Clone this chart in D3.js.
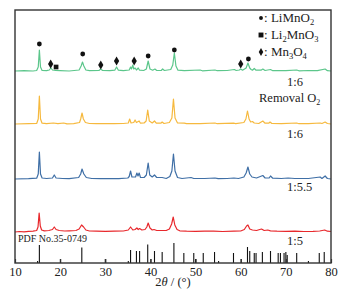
<!DOCTYPE html>
<html>
<head>
<meta charset="utf-8">
<script src="https://cdn.jsdelivr.net/npm/d3@7"></script>
<style>
  body { margin: 0; background: #fff; }
  text { font-family: "Liberation Serif", "Times New Roman", serif; fill: #222; }
</style>
</head>
<body>
<svg id="chart" width="346" height="300"></svg>
<script>
// 2theta / intensity (arbitrary, above each pattern's own baseline)
const ratio1to6 = [[10,0],[12,0.3],[14,0],[14.8,0.5],[15.15,4],[15.4,21],[15.65,4],[16,0.5],[17,0.3],[17.6,1],[17.95,3],[18.3,1],[19,0.5],[20,0.3],[22,0],[24.2,1],[24.65,5],[24.95,9],[25.25,5],[25.7,1],[26.5,0.3],[28.6,0.5],[29,2],[29.4,0.5],[31,0.3],[32.1,0.8],[32.5,4],[32.9,0.8],[34,0.3],[35.3,1],[35.6,4],[35.8,2],[36.1,6],[36.3,2],[36.6,3],[36.9,1],[37.3,3],[37.6,0.8],[38.5,0.5],[39.1,2],[39.5,10],[39.9,2],[40.5,0.8],[41,2],[41.4,0.5],[42.4,0.5],[42.7,2],[43.1,0.5],[44.5,1.5],[44.95,6],[45.3,18],[45.65,5],[46.1,0.8],[47.5,0.3],[51,1],[51.5,0.2],[54.3,1],[54.8,0.3],[57,0.5],[58.6,1.5],[59,0.5],[59.7,1],[60,2],[60.4,0.8],[61.2,3],[61.6,8],[62,3],[62.3,1.5],[62.6,0.8],[63,2.5],[63.4,0.8],[64.5,0.8],[64.9,2],[65.4,0.5],[66.6,1.5],[67.1,0.3],[70,0.3],[72.4,1],[72.9,0.2],[75,0.5],[77,0.3],[78.7,2],[79.2,0.3],[80,0]];
const ratio1to6NoO2 = [[10,0],[13,0.3],[14.8,0.5],[15.15,5],[15.4,28],[15.65,5],[16,0.8],[17,0.3],[18.5,1],[19.5,0.3],[20.8,1],[21.5,0.2],[23,0.3],[24.3,1.5],[24.55,5],[24.85,11],[25.15,5],[25.6,1.5],[26.5,0.5],[28,0.3],[30,0.5],[32,0.3],[34,0.5],[35.1,1],[35.4,5],[35.7,1],[36.3,1.5],[36.6,4],[36.9,1.5],[37.5,3],[37.8,0.8],[38.6,1],[39.05,3],[39.4,14],[39.75,3],[40.4,1],[40.9,3],[41.3,0.8],[42.3,0.8],[42.6,2],[43,0.5],[44.2,1.5],[44.75,6],[45.1,25],[45.45,6],[46,1],[47.5,0.8],[48,0.3],[51,0.3],[54.3,1],[54.8,0.3],[58.4,0.8],[58.9,0.3],[60.7,1.5],[61.15,5],[61.5,13],[61.85,5],[62.2,2],[62.6,2.5],[63,1],[64,0.5],[64.9,3],[65.4,0.8],[66.2,0.8],[66.5,2],[66.9,0.5],[69,0.3],[72.4,1],[72.9,0.3],[75,0.3],[77.6,1],[78,0.5],[78.7,2],[79.2,0.5],[80,0]];
const ratio1to55 = [[10,0],[13,0.3],[14.8,0.8],[15.15,5],[15.4,27],[15.65,5],[16,1],[17,0.5],[18.3,1],[18.7,4],[19.1,1],[20.5,0.5],[22,0.3],[24.1,1.5],[24.55,5],[24.85,10],[25.25,5],[25.8,1.5],[27,0.5],[29,0.3],[31,0.5],[33,0.3],[35,1],[35.3,2.5],[35.6,8],[35.9,2],[36.7,2],[37,6],[37.25,3],[37.5,6],[37.8,1.5],[38.6,1.5],[39.1,4],[39.5,16],[39.85,4],[40.4,2],[40.9,4],[41.4,1.5],[42.6,1.5],[43.5,0.5],[44.3,2.5],[44.75,8],[45.1,25],[45.45,8],[46,1.5],[47,0.5],[49,1.5],[49.6,0.5],[52,0.5],[54.3,1],[55,0.3],[57,0.5],[58.5,1],[59.5,0.5],[60.7,2],[61.2,6],[61.6,12],[62,5],[62.5,2],[63.5,1],[64.9,3.5],[65.4,1],[66.3,1],[66.6,3],[67.1,0.8],[69,0.5],[70.5,1],[72,0.5],[75,0.5],[77.6,2],[78,0.5],[78.7,3],[79.2,0.5],[80,0]];
const ratio1to5 = [[10,0],[11,0.5],[12,0.2],[13,0.6],[14,0.8],[14.8,1.5],[15.1,5],[15.35,19],[15.6,6],[15.9,2],[16.5,1.2],[17.5,1.5],[18.3,2.5],[18.7,5],[19.1,2.5],[19.8,1.5],[21,1],[22,1.2],[23.5,1.5],[24.2,3],[24.75,7],[25.2,5],[25.7,2],[26.5,1],[28,0.8],[30,0.6],[32,0.8],[34,1],[35.1,2],[35.6,5],[36.1,2],[36.6,2.5],[37,4],[37.3,2.5],[37.6,3.5],[38.1,2],[38.8,2.5],[39.2,5],[39.5,9],[39.9,4],[40.4,2],[40.8,2.5],[41.4,1.5],[42.5,1.5],[43.5,1.5],[44.2,3],[44.7,8],[45.05,15],[45.4,7],[45.9,2.5],[46.5,1.2],[48,0.8],[50,0.6],[52,0.8],[54,0.8],[56,0.5],[58.5,0.8],[60,1],[60.8,2.5],[61.3,6],[61.6,7],[62,3],[62.6,2],[63.5,1.5],[64.6,3],[65.2,1.5],[66,2],[66.6,1.2],[68,0.8],[70,0.6],[72,0.8],[74,0.5],[76,0.6],[77.5,1],[78.6,2],[79.2,0.8],[80,0.5]];

// PDF No.35-0749 reference lines: [2theta, relative height]
const pdfLines = [[15.0,2],[15.4,18],[20.05,4],[24.8,15.5],[30.0,4],[35.1,2],[35.6,13],[36.9,12],[37.6,12],[39.4,18.5],[40.1,4],[40.9,12],[42.6,11],[45.2,20],[47.4,10],[49.6,10],[50.0,4],[51.7,10],[54.2,11],[55.1,2],[58.4,10],[60.1,4],[61.5,16],[62.0,12],[63.0,10],[63.4,10],[64.8,11],[66.6,12],[68.3,10],[68.8,10],[69.6,10],[70.0,11],[70.3,8],[72.4,10],[75.0,2],[77.4,10],[78.5,11]];

// phase markers on the top pattern: [2theta, intensity]
const limno2Marks = [[15.4,27],[25.0,17],[39.5,15],[45.3,21],[61.7,12]];
const li2mno3Marks = [[19.1,4]];
const mn3o4Marks = [[17.9,7],[29.0,6],[32.5,10],[36.4,10],[60.0,7]];

const xTicks = [10, 20, 30, 40, 50, 60, 70, 80];

const series = [
  { data: ratio1to5, offset: 31, color: "#e8282c", label: "1:5", ly: 245 },
  { data: ratio1to55, offset: 84, color: "#3f6fa6", label: "1:5.5", ly: 191 },
  { data: ratio1to6NoO2, offset: 139, color: "#f6b93e", label: "1:6", ly: 138 },
  { data: ratio1to6, offset: 192, color: "#5cc68b", label: "1:6", ly: 86 }
];

const svg = d3.select("#chart");
const margin = { left: 15, right: 15, top: 10, bottom: 37 };
const width = 346 - margin.left - margin.right;
const height = 300 - margin.top - margin.bottom;

const x = d3.scaleLinear().domain([10, 80]).range([margin.left, margin.left + width]);
const y = d3.scaleLinear().domain([0, height]).range([margin.top + height, margin.top]);

const g = svg.append("g");

// pdf stick pattern
g.append("g").selectAll("line")
  .data(pdfLines)
  .join("line")
  .attr("x1", d => x(d[0])).attr("x2", d => x(d[0]))
  .attr("y1", y(0)).attr("y2", d => y(d[1]))
  .attr("stroke", "#111").attr("stroke-width", 1.1);

// patterns
series.forEach(s => {
  const line = d3.line()
    .x(d => x(d[0]))
    .y(d => y(d[1] + s.offset));
  g.append("path")
    .datum(s.data)
    .attr("d", line)
    .attr("fill", "none")
    .attr("stroke", s.color)
    .attr("stroke-width", 1.2)
    .attr("stroke-linejoin", "round");
  g.append("text")
    .attr("x", 287).attr("y", s.ly)
    .attr("font-size", 12.5)
    .text(s.label);
});

// "Removal O2"
const rem = g.append("text").attr("x", 259).attr("y", 102).attr("font-size", 12.5);
rem.append("tspan").text("Removal O");
rem.append("tspan").attr("font-size", 8).attr("dy", 3).text("2");

g.append("text").attr("x", 18).attr("y", 242).attr("font-size", 10).text("PDF No.35-0749");

// markers
const dot = d3.symbol().type(d3.symbolCircle).size(18);
const sq = d3.symbol().type(d3.symbolSquare).size(22);
const dia = d3.symbol().type(d3.symbolDiamond).size(24);
const markG = g.append("g").attr("fill", "#111");
markG.selectAll(".c").data(limno2Marks).join("path")
  .attr("transform", d => `translate(${x(d[0])},${y(d[1] + 192)})`).attr("d", dot);
markG.selectAll(".s").data(li2mno3Marks).join("path")
  .attr("transform", d => `translate(${x(d[0])},${y(d[1] + 192)})`).attr("d", sq);
markG.selectAll(".d").data(mn3o4Marks).join("path")
  .attr("transform", d => `translate(${x(d[0])},${y(d[1] + 192)})`).attr("d", dia);

// legend: [main, sub, main, sub]
const legend = [
  { sym: d3.symbol().type(d3.symbolCircle).size(12), parts: ["LiMnO", "2"], y: 22 },
  { sym: d3.symbol().type(d3.symbolSquare).size(24), parts: ["Li", "2", "MnO", "3"], y: 39 },
  { sym: d3.symbol().type(d3.symbolDiamond).size(18), parts: ["Mn", "3", "O", "4"], y: 56 }
];
legend.forEach(l => {
  g.append("path").attr("d", l.sym).attr("fill", "#111")
    .attr("transform", `translate(261,${l.y - 4})`);
  const t = g.append("text").attr("x", 264).attr("y", l.y).attr("font-size", 13);
  t.append("tspan").text(": ");
  l.parts.forEach((p, i) => {
    if (i % 2 === 0) {
      t.append("tspan").attr("font-size", 13).attr("dy", i === 0 ? 0 : -3).text(p);
    } else {
      t.append("tspan").attr("font-size", 8.5).attr("dy", 3).text(p);
    }
  });
});

// frame
g.append("rect")
  .attr("x", margin.left).attr("y", margin.top)
  .attr("width", width).attr("height", height)
  .attr("fill", "none").attr("stroke", "#333").attr("stroke-width", 1.4);

// x axis
const xAxis = g.append("g")
  .attr("transform", `translate(0,${margin.top + height})`)
  .call(d3.axisBottom(x).tickValues(xTicks).tickSize(-4).tickPadding(4));
xAxis.select(".domain").remove();
xAxis.selectAll(".tick line").attr("stroke", "#333").attr("stroke-width", 1.2);
xAxis.selectAll(".tick text")
  .attr("font-size", 12.5)
  .attr("font-family", "'Liberation Serif', serif")
  .attr("fill", "#222");

const title = g.append("text")
  .attr("x", 173).attr("y", 286)
  .attr("text-anchor", "middle").attr("font-size", 12.5);
title.append("tspan").text("2");
title.append("tspan").attr("font-style", "italic").text("θ");
title.append("tspan").text(" / (°)");
</script>
</body>
</html>
